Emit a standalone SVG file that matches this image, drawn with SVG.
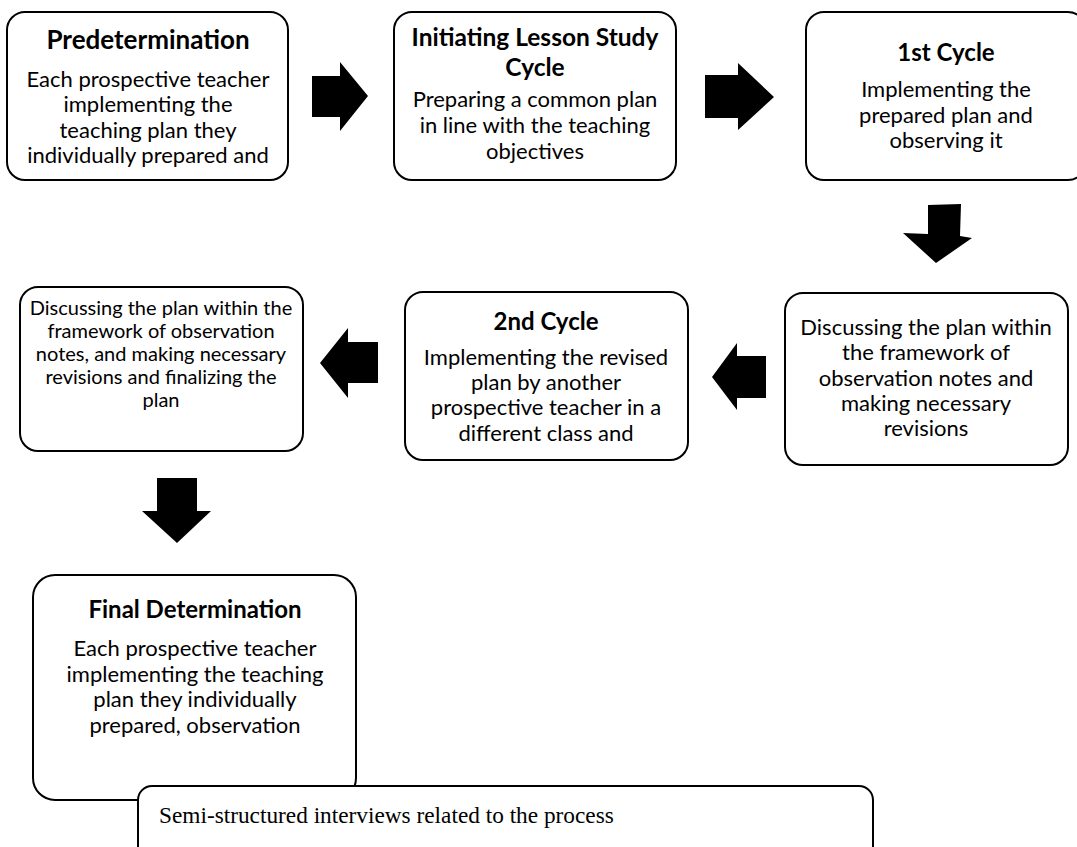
<svg xmlns="http://www.w3.org/2000/svg" width="1077" height="847" viewBox="0 0 1077 847">
<style>
.box{fill:#fff;stroke:#000;stroke-width:2}
.t{font-family:Lato,"Open Sans",sans-serif;font-weight:bold;font-size:24px;text-anchor:middle;fill:#000}
.b{font-family:Lato,"Open Sans",sans-serif;font-size:22px;text-anchor:middle;fill:#000}
.sm{font-size:20px}
.s{font-family:"Liberation Serif",serif;font-size:23.3px;fill:#000}
.arr{fill:#000}
</style>
<rect width="1077" height="847" fill="#fff"/>
<g id="connectors">
<polygon class="arr" points="312,76 340,76 340,62 368,96 340,131 340,117 312,117"/>
<polygon class="arr" points="705,75 738,75 738,63 774,97 738,130 738,118 705,118"/>
<polygon class="arr" points="928,205 961,204 960,236 972,238 936,263 903,233 928,234"/>
<polygon class="arr" points="378,342 348,342 348,328 320,363 348,398 348,383 378,383"/>
<polygon class="arr" points="766,356 737,356 737,343 712,377 737,410 737,398 766,398"/>
<polygon class="arr" points="157,478 197,478 197,511 211,511 177,543 142,511 157,511"/>
</g>
<g id="predetermination">
<rect class="box" x="7" y="12" width="281" height="168" rx="18"/>
<text class="t" x="148" y="49" style="font-size:26px">Predetermination</text>
<text class="b" x="148" y="87">Each prospective teacher</text>
<text class="b" x="148" y="112">implementing the</text>
<text class="b" x="148" y="138">teaching plan they</text>
<text class="b" x="148" y="163">individually prepared and</text>
</g>
<g id="initiating">
<rect class="box" x="394" y="12" width="282" height="168" rx="18"/>
<text class="t" x="535" y="46" style="font-size:24.5px">Initiating Lesson Study</text>
<text class="t" x="535" y="76" style="font-size:24.5px">Cycle</text>
<text class="b" x="535" y="107">Preparing a common plan</text>
<text class="b" x="535" y="133">in line with the teaching</text>
<text class="b" x="535" y="159">objectives</text>
</g>
<g id="cycle1">
<rect class="box" x="806" y="12" width="280" height="168" rx="18"/>
<text class="t" x="946" y="61">1st Cycle</text>
<text class="b" x="946" y="97">Implementing the</text>
<text class="b" x="946" y="123">prepared plan and</text>
<text class="b" x="946" y="148">observing it</text>
</g>
<g id="discuss1">
<rect class="box" x="785" y="293" width="283" height="172" rx="18"/>
<text class="b" x="926" y="335">Discussing the plan within</text>
<text class="b" x="926" y="360">the framework of</text>
<text class="b" x="926" y="386">observation notes and</text>
<text class="b" x="926" y="411">making necessary</text>
<text class="b" x="926" y="436">revisions</text>
</g>
<g id="cycle2">
<rect class="box" x="405" y="292" width="283" height="168" rx="18"/>
<text class="t" x="546" y="330">2nd Cycle</text>
<text class="b" x="546" y="365">Implementing the revised</text>
<text class="b" x="546" y="390">plan by another</text>
<text class="b" x="546" y="415">prospective teacher in a</text>
<text class="b" x="546" y="441">different class and</text>
</g>
<g id="discuss2">
<rect class="box" x="20" y="287" width="283" height="164" rx="18"/>
<text class="b sm" x="161" y="315">Discussing the plan within the</text>
<text class="b sm" x="161" y="338">framework of observation</text>
<text class="b sm" x="161" y="361">notes, and making necessary</text>
<text class="b sm" x="161" y="384">revisions and finalizing the</text>
<text class="b sm" x="161" y="407">plan</text>
</g>
<g id="final">
<rect class="box" x="33" y="575" width="323" height="225" rx="22"/>
<text class="t" x="195" y="618">Final Determination</text>
<text class="b" x="195" y="656">Each prospective teacher</text>
<text class="b" x="195" y="682">implementing the teaching</text>
<text class="b" x="195" y="707">plan they individually</text>
<text class="b" x="195" y="733">prepared, observation</text>
</g>
<g id="interviews">
<rect class="box" x="138" y="786" width="735" height="80" rx="14"/>
<text class="s" x="159" y="823">Semi-structured interviews related to the process</text>
</g>
</svg>
